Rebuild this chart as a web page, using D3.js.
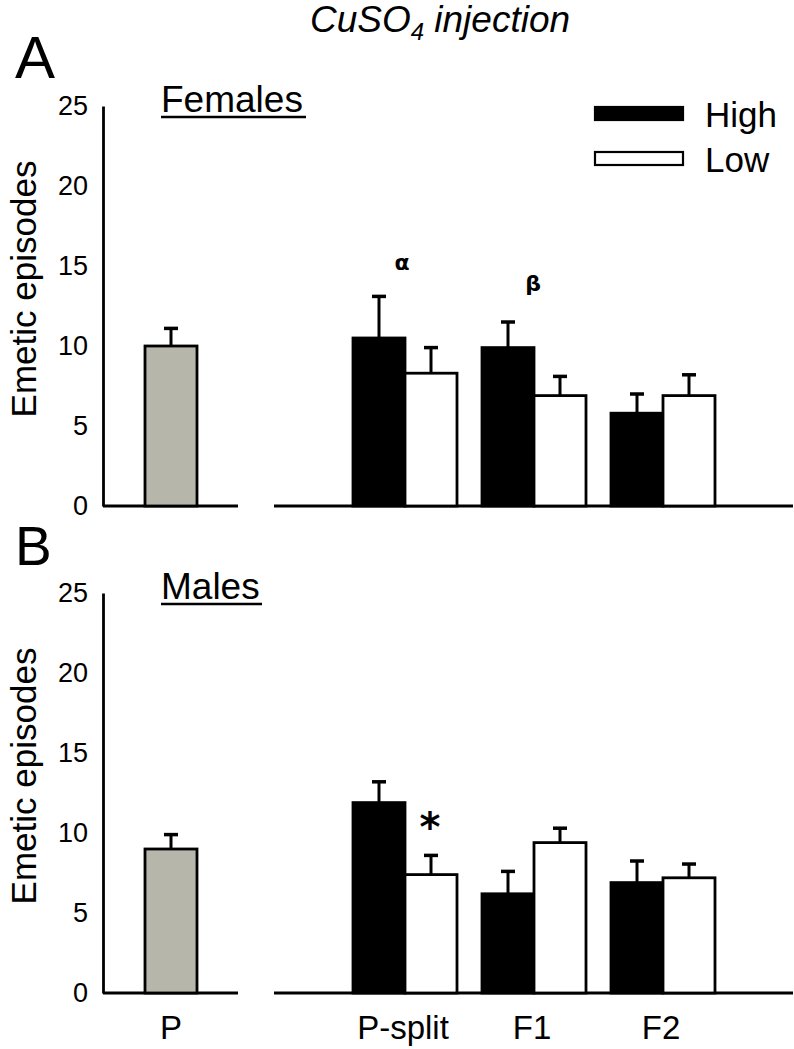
<!DOCTYPE html>
<html>
<head>
<meta charset="utf-8">
<script src="https://cdn.jsdelivr.net/npm/d3@7"></script>
<style>
  body { margin: 0; background: #fff; }
  svg { display: block; font-family: "Liberation Sans", Arial, sans-serif; }
</style>
</head>
<body>
<svg id="chart" width="794" height="1049"></svg>
<script>
// ---- Data ----
const groups = ["P-split", "F1", "F2"];
const series = ["High", "Low"];
const yTicks = [0, 5, 10, 15, 20, 25];

const femaleP = 10.0, femalePErr = 1.1;
const femaleHigh = [10.5, 9.9, 5.8];
const femaleHighErr = [2.6, 1.6, 1.2];
const femaleLow = [8.3, 6.9, 6.9];
const femaleLowErr = [1.6, 1.2, 1.3];

const maleP = 9.0, malePErr = 0.9;
const maleHigh = [11.9, 6.2, 6.9];
const maleHighErr = [1.3, 1.4, 1.35];
const maleLow = [7.4, 9.4, 7.2];
const maleLowErr = [1.2, 0.9, 0.86];

// ---- Layout ----
const svg = d3.select("#chart");
const axisX = 103;
const xP = d3.scaleBand().domain(["P"]).range([145, 197]);
const xGroup = d3.scaleBand().domain(groups).range([340.5, 727.5]);
const xSub = d3.scaleBand().domain(series)
  .range([xGroup.bandwidth() / 2 - 52, xGroup.bandwidth() / 2 + 52]);
const fills = { High: "#000", Low: "#fff" };
const grey = "#b6b6aa";

const panels = [
  { letter: "A", letterSize: 60, letterY: 78, title: "Females", titleW: 145,
    top: 106, bottom: 506, P: femaleP, PErr: femalePErr,
    high: femaleHigh, highErr: femaleHighErr, low: femaleLow, lowErr: femaleLowErr,
    notes: [{ t: "α", g: "P-split", dx: -3, y: 15.2, size: 22 }, { t: "β", g: "F1", dx: -1, y: 13.9, size: 22 }] },
  { letter: "B", letterSize: 55, letterY: 565, title: "Males", titleW: 101,
    top: 593, bottom: 993, P: maleP, PErr: malePErr,
    high: maleHigh, highErr: maleHighErr, low: maleLow, lowErr: maleLowErr,
    notes: [{ t: "*", g: "P-split", dx: 25, y: 10.4, size: 40 }] }
];

// Title
const title = svg.append("text")
  .attr("x", 440).attr("y", 32).attr("text-anchor", "middle")
  .attr("font-size", 37).attr("font-style", "italic");
title.append("tspan").text("CuSO");
title.append("tspan").attr("font-size", 24).attr("dy", 8).text("4");
title.append("tspan").attr("dy", -8).text(" injection");

panels.forEach(p => {
  const y = d3.scaleLinear().domain([0, 25]).range([p.bottom, p.top]);
  const g = svg.append("g");

  // panel letter
  g.append("text").attr("x", 15).attr("y", p.letterY)
    .attr("font-size", p.letterSize).text(p.letter);

  // sex title with underline
  const tx = 161;
  const tY = y(25) + 6;
  g.append("text").attr("x", tx).attr("y", tY).attr("font-size", 37).text(p.title);
  g.append("line").attr("x1", tx).attr("x2", tx + p.titleW)
    .attr("y1", tY + 5).attr("y2", tY + 5)
    .attr("stroke", "#000").attr("stroke-width", 2.5);

  // y axis (no tick marks)
  const yAxis = d3.axisLeft(y).tickValues(yTicks).tickSize(0).tickPadding(15);
  const ya = g.append("g").attr("transform", `translate(${axisX},0)`).call(yAxis);
  ya.select(".domain").attr("stroke", "#000").attr("stroke-width", 2.8);
  ya.selectAll("text").attr("font-size", 27).attr("fill", "#000")
    .attr("font-family", "Liberation Sans, Arial, sans-serif");

  // y label
  g.append("text")
    .attr("transform", `translate(36,${(p.top + p.bottom) / 2 - 17}) rotate(-90)`)
    .attr("text-anchor", "middle").attr("font-size", 35).text("Emetic episodes");

  // baselines
  g.append("line").attr("x1", axisX).attr("x2", 238)
    .attr("y1", y(0)).attr("y2", y(0)).attr("stroke", "#000").attr("stroke-width", 2.8);
  g.append("line").attr("x1", 274).attr("x2", 793)
    .attr("y1", y(0)).attr("y2", y(0)).attr("stroke", "#000").attr("stroke-width", 2.8);

  // helper for error bars
  function errBar(cx, v, e) {
    g.append("line").attr("x1", cx).attr("x2", cx).attr("y1", y(v)).attr("y2", y(v + e))
      .attr("stroke", "#000").attr("stroke-width", 3);
    g.append("line").attr("x1", cx - 7).attr("x2", cx + 7).attr("y1", y(v + e)).attr("y2", y(v + e))
      .attr("stroke", "#000").attr("stroke-width", 3.5);
  }

  // P bar
  g.append("rect").attr("x", xP("P")).attr("width", xP.bandwidth())
    .attr("y", y(p.P)).attr("height", y(0) - y(p.P))
    .attr("fill", grey).attr("stroke", "#000").attr("stroke-width", 2.8);
  errBar(xP("P") + xP.bandwidth() / 2, p.P, p.PErr);

  // grouped bars
  const rows = [];
  groups.forEach((grp, i) => {
    rows.push({ grp, s: "High", v: p.high[i], e: p.highErr[i] });
    rows.push({ grp, s: "Low", v: p.low[i], e: p.lowErr[i] });
  });
  rows.forEach(r => {
    const x0 = xGroup(r.grp) + xSub(r.s);
    g.append("rect").attr("x", x0).attr("width", xSub.bandwidth())
      .attr("y", y(r.v)).attr("height", y(0) - y(r.v))
      .attr("fill", fills[r.s]).attr("stroke", "#000").attr("stroke-width", 2.8);
    errBar(x0 + xSub.bandwidth() / 2, r.v, r.e);
  });

  // annotations
  p.notes.forEach(n => {
    g.append("text").attr("x", xGroup(n.g) + xGroup.bandwidth() / 2 + n.dx)
      .attr("y", y(n.y)).attr("text-anchor", "middle")
      .attr("font-weight", "bold").attr("font-size", n.size)
      .attr("dominant-baseline", "central")
      .attr("font-family", "DejaVu Sans, sans-serif").text(n.t);
  });
});

// Legend
const legend = svg.append("g");
series.forEach((s, i) => {
  const ly = 107 + i * 45;
  legend.append("rect").attr("x", 595).attr("y", ly).attr("width", 88).attr("height", 13)
    .attr("fill", fills[s]).attr("stroke", "#000").attr("stroke-width", 2.2);
  legend.append("text").attr("x", 705).attr("y", ly + 20).attr("font-size", 35).text(s);
});

// x category labels (bottom)
svg.append("text").attr("x", xP("P") + xP.bandwidth() / 2).attr("y", 1039)
  .attr("text-anchor", "middle").attr("font-size", 33).text("P");
svg.selectAll("text.xcat").data(groups).enter().append("text").attr("class", "xcat")
  .attr("x", d => xGroup(d) + xGroup.bandwidth() / 2 - 2).attr("y", 1039)
  .attr("text-anchor", "middle").attr("font-size", 33).text(d => d);
</script>
</body>
</html>
